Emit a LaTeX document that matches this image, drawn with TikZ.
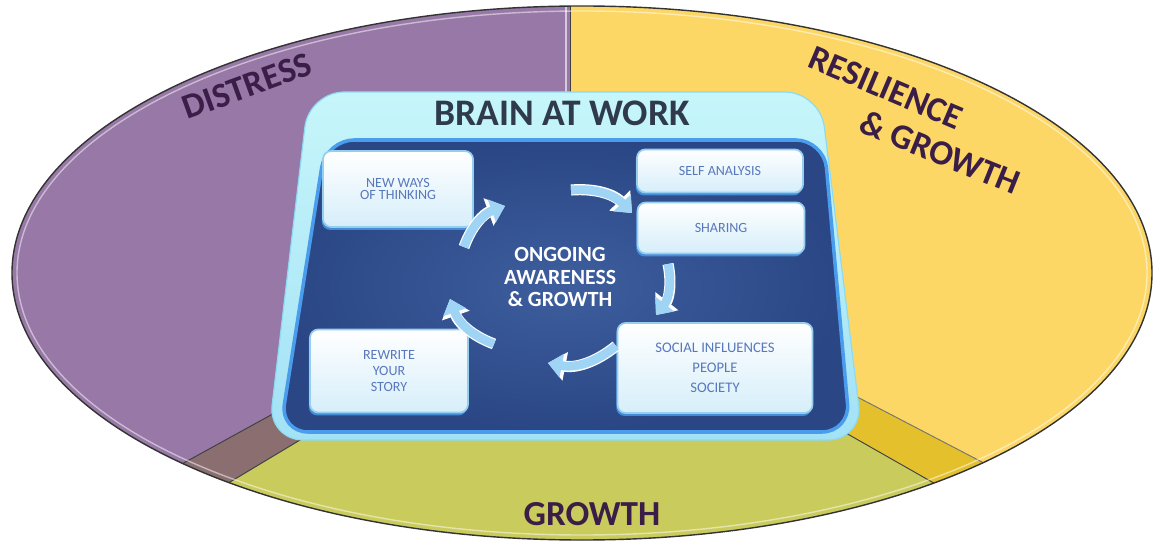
\documentclass[tikz,border=0pt]{standalone}
\usepackage{fontspec}
\setmainfont{Carlito}
\usepackage{tikz}
\usetikzlibrary{arrows.meta,shadows,positioning}
\definecolor{zonepurple}{RGB}{151,120,166}
\definecolor{zoneyellow}{RGB}{252,215,102}
\definecolor{zonegreen}{RGB}{201,203,92}
\definecolor{bandbrown}{RGB}{139,111,112}
\definecolor{bandyellow}{RGB}{228,193,44}
\definecolor{labelpurple}{RGB}{59,30,72}
\definecolor{titlegray}{RGB}{47,59,76}
\definecolor{framecyan}{RGB}{198,246,250}
\definecolor{framecyandark}{RGB}{140,218,243}
\definecolor{panelnavy}{RGB}{42,70,132}
\definecolor{panelnavylight}{RGB}{62,94,158}
\definecolor{rimblue}{RGB}{74,156,236}
\definecolor{boxtint}{RGB}{214,238,250}
\definecolor{boxedge}{RGB}{150,206,240}
\definecolor{boxtext}{RGB}{88,120,188}
\definecolor{arrowblue}{RGB}{160,212,244}
\tikzstyle{zonelabel} = [font=\fontsize{30}{30}\selectfont\bfseries, text=labelpurple]
\tikzstyle{edgeline} = [draw=black!75, line width=0.8pt]
\tikzstyle{stepbox} = [rectangle, rounded corners=7pt, draw=boxedge, line width=1.5pt, top color=white, bottom color=boxtint, text=boxtext, align=center, font=\fontsize{12}{11}\selectfont, drop shadow={shadow xshift=-1pt, shadow yshift=-2.5pt, fill=rimblue, opacity=0.8}]
\tikzstyle{cyclearrow} = [line width=7.5pt, color=arrowblue, -{Triangle[width=20pt,length=12pt]}, preaction={draw=white, line width=9.5pt, -{Triangle[width=24pt,length=15pt]}}]

\begin{document}
\begin{tikzpicture}[x=0.03cm, y=-0.03cm]
\useasboundingbox (0,0) rectangle (1153,542);

% Three zones of the ellipse
\begin{scope}
\clip (582,273) ellipse [x radius=570, y radius=267];
\fill[zonepurple] (0,0) rectangle (571,620);
\fill[zoneyellow] (571,0) rectangle (1160,620);
\fill[zonegreen] (60,584) -- (400,380) -- (700,350) -- (1120,589) -- (1120,620) -- (60,620) -- cycle;
\fill[bandbrown] (60,531) -- (400,344) -- (400,380) -- (60,584) -- cycle;
\fill[bandyellow] (700,315) -- (1120,534) -- (1120,589) -- (700,350) -- cycle;
\draw[edgeline] (60,531) -- (400,344);
\draw[edgeline] (60,584) -- (400,380);
\draw[edgeline, draw=black!55] (700,315) -- (1120,534);
\draw[edgeline] (700,350) -- (1120,589);
\draw[white, opacity=0.6, line width=1pt] (566,0) -- (566,120);
\draw[edgeline] (570,0) -- (570,120);
\draw[white, opacity=0.5, line width=1.2pt] (582,273) ellipse [x radius=565, y radius=262];
\end{scope}
\draw[draw=black!80, line width=1.2pt] (582,273) ellipse [x radius=570, y radius=267];

% Zone labels
\node (distress) [zonelabel, rotate=20] at (247,86) {DISTRESS};
\node (resilience) [zonelabel, rotate=-23] at (886,88) {RESILIENCE};
\node (resgrowth) [zonelabel, rotate=-22] at (940,152) {\& GROWTH};
\node (growth) [zonelabel] at (592,514) {GROWTH};

% Brain at work frame
\draw[rounded corners=30pt, draw=framecyandark, line width=1pt, top color=framecyan, bottom color=framecyandark!80!white]
  (309,92) -- (820,92) -- (863,440) -- (268,440) -- cycle;
\draw[rounded corners=24pt, draw=rimblue, line width=3pt, inner color=panelnavylight, outer color=panelnavy]
  (326,140) -- (824,140) -- (850,432) -- (280,432) -- cycle;
\node (title) [font=\fontsize{32}{32}\selectfont\bfseries, text=titlegray] at (562,113) {BRAIN AT WORK};

% Steps of the cycle
\node (newways) [stepbox, minimum width=4.5cm, minimum height=2.28cm] at (398,189) {NEW WAYS\\OF THINKING};
\node (selfanalysis) [stepbox, minimum width=4.98cm, minimum height=1.29cm] at (720,171) {SELF ANALYSIS};
\node (sharing) [stepbox, minimum width=5.01cm, minimum height=1.53cm] at (721,228) {SHARING};
\node (social) [stepbox, minimum width=5.85cm, minimum height=2.7cm, font=\fontsize{12.5}{17}\selectfont] at (715,368) {SOCIAL INFLUENCES\\PEOPLE\\SOCIETY};
\node (rewrite) [stepbox, minimum width=4.74cm, minimum height=2.49cm, font=\fontsize{12}{13.5}\selectfont] at (389,371) {REWRITE\\YOUR\\STORY};

\node (centre) [align=center, text=white, font=\fontsize{18.5}{19.5}\selectfont\bfseries] at (560,277) {ONGOING\\AWARENESS\\\& GROWTH};

% Arrows round the centre
\coordinate (a1s) at (464,247);
\coordinate (a1e) at (505,206);
\coordinate (a2s) at (571,190);
\coordinate (a2e) at (632,213);
\coordinate (a3s) at (668,264);
\coordinate (a3e) at (656,315);
\coordinate (a4s) at (616,346);
\coordinate (a4e) at (548,363);
\coordinate (a5s) at (494,344);
\coordinate (a5e) at (450,299);
\draw[cyclearrow] (a1s) to[bend left=25] (a1e);
\draw[cyclearrow] (a2s) to[bend left=25] (a2e);
\draw[cyclearrow] (a3s) to[bend left=25] (a3e);
\draw[cyclearrow] (a4s) to[bend left=25] (a4e);
\draw[cyclearrow] (a5s) to[bend left=25] (a5e);
\end{tikzpicture}
\end{document}
